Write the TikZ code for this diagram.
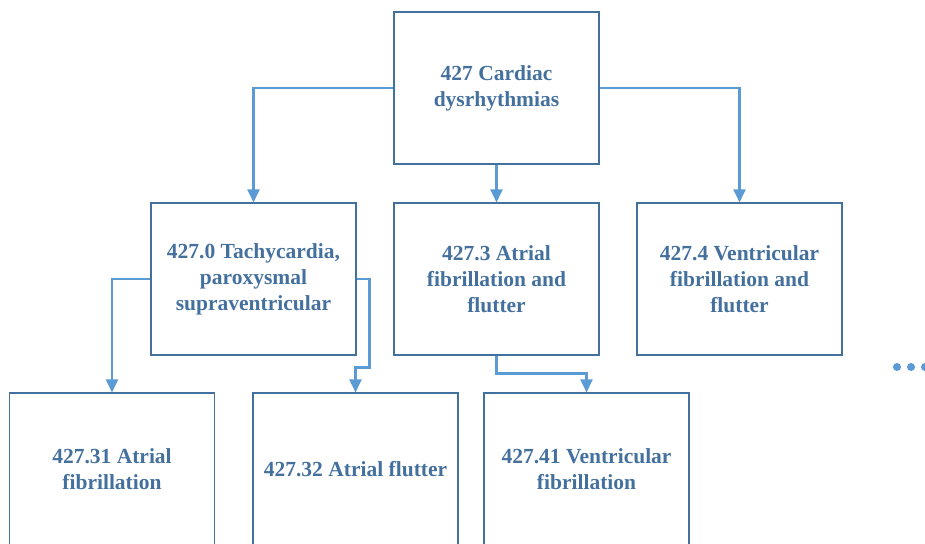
\documentclass[tikz,border=0pt]{standalone}
\usepackage{fontspec}
\setmainfont{Liberation Serif}
\usetikzlibrary{arrows.meta,calc}
\definecolor{boxline}{RGB}{65,113,156}
\definecolor{txt}{RGB}{68,112,158}
\definecolor{conn}{RGB}{91,155,213}
\begin{document}
\begin{tikzpicture}[x=1pt,y=1pt,
  box/.style={draw=boxline,line width=1.1pt,rectangle,minimum width=205pt,minimum height=152pt,
    align=center,text=txt,font=\fontsize{21.5}{26}\selectfont\bfseries,inner sep=0pt},
  conline/.style={draw=conn,line width=2.2pt,-{Triangle[width=12pt,length=13pt]}},
  dot/.style={fill=conn,draw=none,circle,minimum size=8pt,inner sep=0pt}]
\useasboundingbox (0,0) rectangle (925,-543);
\node[box] (top) at (496.5,-88) {427 Cardiac\\dysrhythmias};
\node[box] (t0) at (253.5,-279) {427.0 Tachycardia,\\paroxysmal\\supraventricular};
\node[box] (t3) at (496.5,-279) {427.3 Atrial\\fibrillation and\\flutter};
\node[box] (t4) at (739.5,-279) {427.4 Ventricular\\fibrillation and\\flutter};
\node[box] (b1) at (112,-469) {427.31 Atrial\\fibrillation};
\node[box] (b2) at (355.5,-469) {427.32 Atrial flutter};
\node[box] (b3) at (586.5,-469) {427.41 Ventricular\\fibrillation};
\draw[conline] (top.west) -| (t0.north);
\draw[conline] (top.east) -| (t4.north);
\draw[conline] (top.south) -- (t3.north);
\draw[conline] (t0.west) -| (b1.north);
\draw[conline] (t0.east) -- ++(13,0) |- ([yshift=25pt]b2.north) -- (b2.north);
\draw[conline] (t3.south) -- ++(0,-18) -| (b3.north);
\node[dot] (d1) at (897,-367) {};
\node[dot] (d2) at (911,-367) {};
\node[dot] (d3) at (925,-367) {};
\end{tikzpicture}
\end{document}
